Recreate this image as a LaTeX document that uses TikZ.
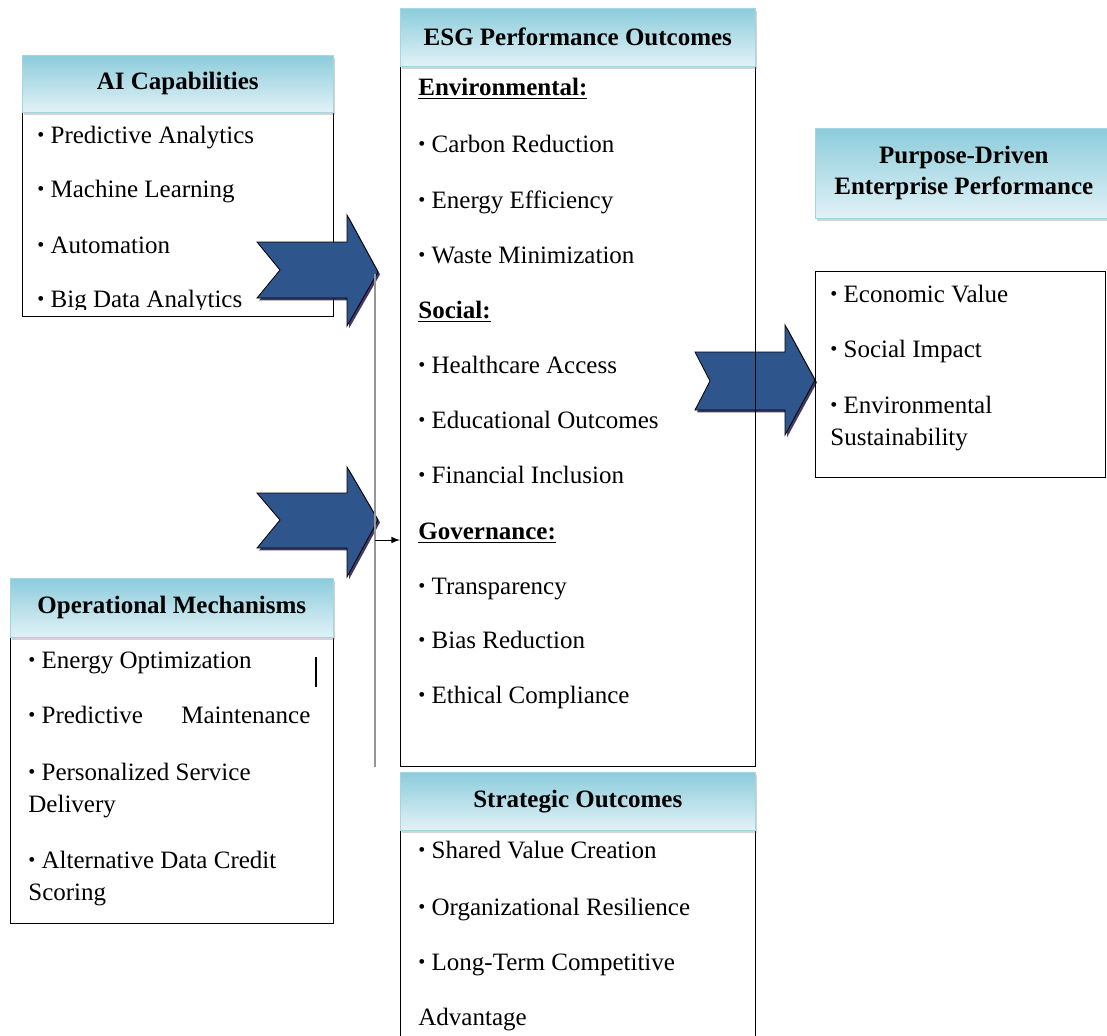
\documentclass[tikz,border=0pt]{standalone}
\usepackage{fontspec}
\setmainfont{Liberation Serif}
\usetikzlibrary{shadows}
\usepackage{xcolor}

\definecolor{arrowblue}{RGB}{47,86,140}
\definecolor{arrowshade}{RGB}{45,35,85}
\definecolor{hdrtop}{RGB}{140,204,219}
\definecolor{hdrbottom}{RGB}{226,242,247}
\definecolor{linegray}{RGB}{150,150,150}

\newcommand{\itm}{\raisebox{0.12ex}{\scalebox{0.8}{\textbullet}}\ }

\tikzset{
  header/.style={anchor=north west, inner sep=0pt, align=center,
    font=\fontsize{12.5}{15.5}\selectfont\bfseries,
    top color=hdrtop, bottom color=hdrbottom, draw=hdrtop!80, line width=0.3pt,
    drop shadow={shadow xshift=0.8pt, shadow yshift=-1.2pt, opacity=0.35}},
  listbox/.style={anchor=north west, inner sep=0pt, draw=black, line width=0.6pt},
  entry/.style={anchor=base west, inner sep=0pt, font=\fontsize{12.5}{15.5}\selectfont},
  blockarrow/.style={fill=arrowblue,
    drop shadow={shadow xshift=1pt, shadow yshift=-1.2pt, fill=arrowshade, opacity=0.9}}
}

\begin{document}
\begin{tikzpicture}[x=0.5pt, y=-0.5pt]
        \useasboundingbox (0,0) rectangle (1107,1035);

        % AI capabilities
        \node[listbox, minimum width=155.5pt, minimum height=102pt] (aibody) at (22,112) {};
        \node[header, minimum width=155.5pt, minimum height=28.5pt] (aihead) at (22,55) {AI Capabilities};
        \node[entry] at (37,143) {\itm Predictive Analytics};
        \node[entry] at (37,197) {\itm Machine Learning};
        \node[entry] at (37,253) {\itm Automation};
        \begin{scope}
            \clip (22,112) rectangle (333,309);
            \node[entry] at (37,307) {\itm Big Data Analytics};
        \end{scope}

        % Operational mechanisms
        \node[listbox, minimum width=161.5pt, minimum height=143pt] (ombody) at (10,637) {};
        \node[header, minimum width=161.5pt, minimum height=29.5pt] (omhead) at (10,578) {Operational Mechanisms};
        \node[entry] at (28,668) {\itm Energy Optimization};
        \node[entry] at (28,723) {\hbox to 141pt{\itm Predictive\hfill Maintenance}};
        \node[entry] at (28,780) {\itm Personalized Service};
        \node[entry] at (28,812) {Delivery};
        \node[entry] at (28,868) {\itm Alternative Data Credit};
        \node[entry] at (28,900) {Scoring};
        \draw[line width=0.75pt] (316,657) -- (316,687);

        % Block arrows into the ESG column
        \draw[blockarrow] (257,242) -- (347,242) -- (347,215) -- (378,272) -- (347,326)
            -- (347,298) -- (257,298) -- (280,270) -- cycle;
        \draw[blockarrow] (257,493) -- (347,493) -- (347,467) -- (378,520) -- (347,577)
            -- (347,548) -- (257,548) -- (280,520) -- cycle;

        % Gray joining line with small arrow
        \coordinate (L1) at (375,274);
        \coordinate (L2) at (375,767);
        \coordinate (J) at (375,540);
        \draw[linegray, line width=1pt] (L1) -- (L2);

        % Block arrow to the enterprise performance box
        \draw[blockarrow] (695,352) -- (785,352) -- (785,325) -- (815,380) -- (785,435)
            -- (785,410) -- (695,410) -- (710,381) -- cycle;

        % ESG performance outcomes
        \node[listbox, minimum width=177.5pt, minimum height=350pt] (esgbody) at (400,66) {};
        \node[header, minimum width=177.5pt, minimum height=29pt] (esghead) at (400,8) {ESG Performance Outcomes};
        \node[entry] at (418,95) {\textbf{\underline{Environmental:}}};
        \node[entry] at (418,152) {\itm Carbon Reduction};
        \node[entry] at (418,208) {\itm Energy Efficiency};
        \node[entry] at (418,263) {\itm Waste Minimization};
        \node[entry] at (418,318) {\textbf{\underline{Social:}}};
        \node[entry] at (418,373) {\itm Healthcare Access};
        \node[entry] at (418,428) {\itm Educational Outcomes};
        \node[entry] at (418,483) {\itm Financial Inclusion};
        \node[entry] at (418,539) {\textbf{\underline{Governance:}}};
        \node[entry] at (418,594) {\itm Transparency};
        \node[entry] at (418,648) {\itm Bias Reduction};
        \node[entry] at (418,703) {\itm Ethical Compliance};
        \draw[-latex, line width=0.5pt] (J) -- (esgbody.west |- J);

        % Strategic outcomes
        \node[listbox, minimum width=177.5pt, minimum height=110pt] (sobody) at (400,830) {};
        \node[header, minimum width=177.5pt, minimum height=29pt] (sohead) at (400,772) {Strategic Outcomes};
        \node[entry] at (418,858) {\itm Shared Value Creation};
        \node[entry] at (418,915) {\itm Organizational Resilience};
        \node[entry] at (418,970) {\itm Long-Term Competitive};
        \node[entry] at (418,1025) {Advantage};

        % Purpose-driven enterprise performance
        \node[header, minimum width=148.5pt, minimum height=45pt] (pdhead) at (815,128) {Purpose-Driven\\Enterprise Performance};
        \node[listbox, minimum width=145pt, minimum height=103pt] (pdbody) at (815,271) {};
        \node[entry] at (830,302) {\itm Economic Value};
        \node[entry] at (830,357) {\itm Social Impact};
        \node[entry] at (830,413) {\itm Environmental};
        \node[entry] at (830,445) {Sustainability};

    \end{tikzpicture}
\end{document}
